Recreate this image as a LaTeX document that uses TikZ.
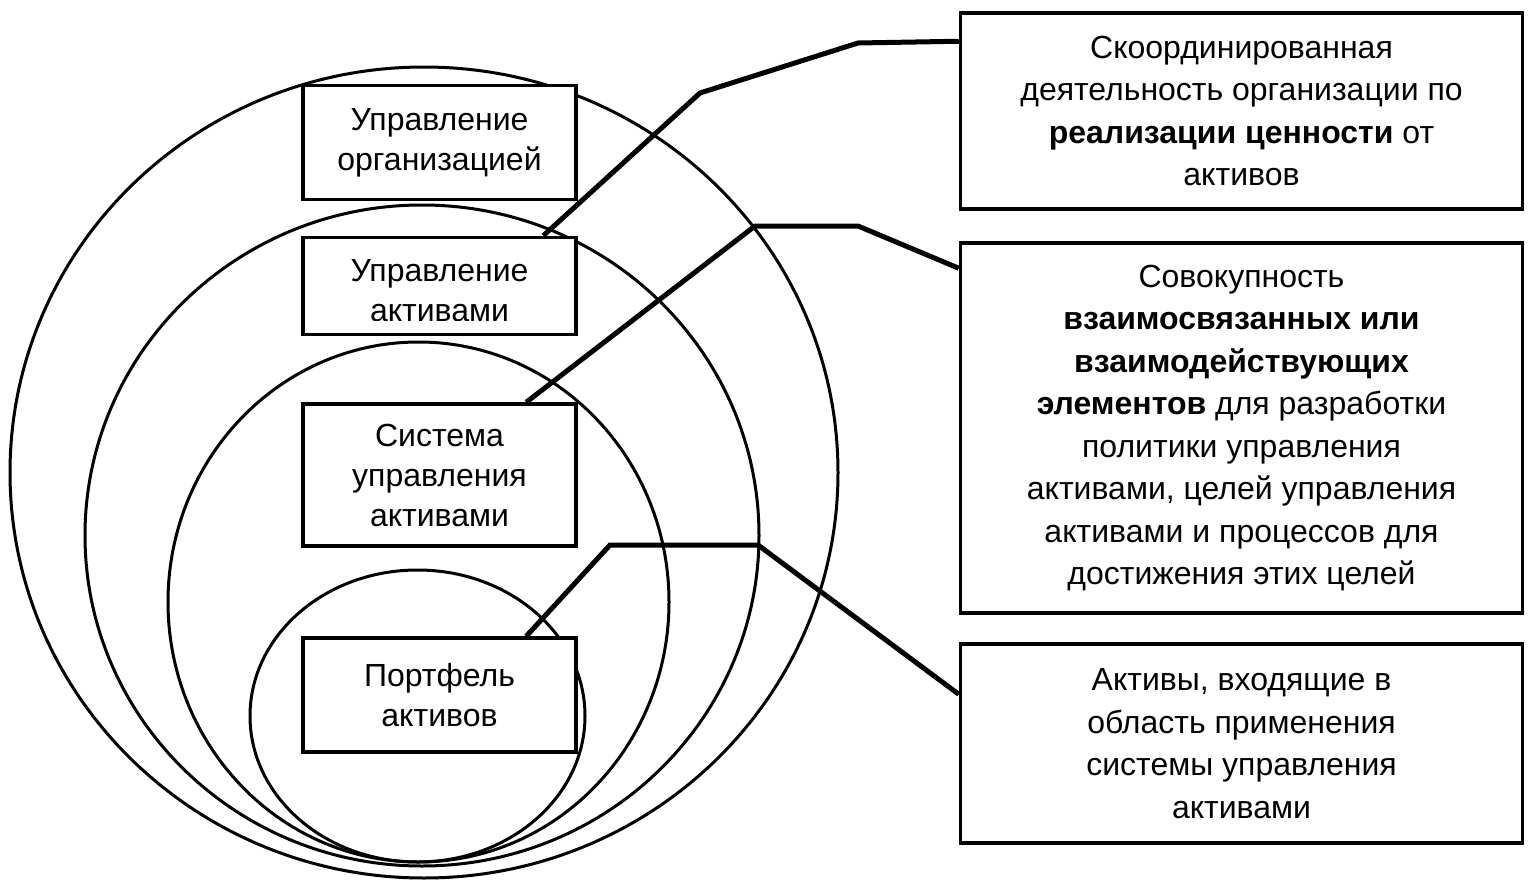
\documentclass[tikz,border=0pt]{standalone}
\usepackage{fontspec}
\setmainfont{Liberation Sans}
\begin{document}
\begin{tikzpicture}[x=1pt,y=-1pt,
  ell/.style={draw=black,line width=3pt},
  lbox/.style={draw=black,fill=white,line width=3.5pt,minimum width=273pt,inner sep=0pt,align=center,
    font=\fontsize{32}{40}\selectfont},
  rbox/.style={draw=black,fill=white,line width=3.5pt,minimum width=562pt,inner sep=0pt,align=center,
    font=\fontsize{32}{42.5}\selectfont},
  btext/.style={inner sep=0pt,align=center,font=\fontsize{32}{40}\selectfont},
  conn/.style={draw=black,line width=5pt,line join=miter}]
\useasboundingbox (0,0) rectangle (1535,886);
\fill[white] (0,0) rectangle (1535,886);
% nested ellipses
\draw[ell] (424,472.5) ellipse [x radius=414pt, y radius=405.5pt];
\draw[ell] (422,535.5) ellipse [x radius=337pt, y radius=330.5pt];
\draw[ell] (418.5,602) ellipse [x radius=250.5pt, y radius=260pt];
\draw[ell] (417.5,716) ellipse [x radius=167.5pt, y radius=146pt];
% left boxes
\node[lbox,minimum height=114pt] (b1) at (439.5,142.5) {Управление\\организацией};
\node[lbox,minimum height=97pt] (b2) at (439.5,286) {};
\begin{scope}
\clip (303,240) rectangle (576,320.5);
\node[btext] (b2t) at (439.5,291) {Управление\\активами};
\end{scope}
\node[lbox,minimum height=142pt] (b3) at (439.5,475) {Система\\управления\\активами};
\node[lbox,minimum height=114pt] (b4) at (439.5,695) {Портфель\\активов};
% right boxes
\node[rbox,minimum height=196pt] (r1) at (1241.5,111) {Скоординированная\\деятельность организации по\\\textbf{реализации ценности} от\\активов};
\node[rbox,minimum height=370pt] (r2) at (1241.5,428) {Совокупность\\\textbf{взаимосвязанных или}\\\textbf{взаимодействующих}\\\textbf{элементов} для разработки\\политики управления\\активами, целей управления\\активами и процессов для\\достижения этих целей};
\node[rbox,minimum height=199pt] (r3) at (1241.5,743.5) {Активы, входящие в\\область применения\\системы управления\\активами};
% bend points
\coordinate (k1a) at (700,93);
\coordinate (k1b) at (858,43);
\coordinate (k2a) at (755,226);
\coordinate (k2b) at (858,226);
\coordinate (k3a) at (610,545);
\coordinate (k3b) at (758,545);
% connectors
\draw[conn] ([xshift=242pt]b2.north west) -- (k1a) -- (k1b) -- ([yshift=-30pt]r1.north west);
\draw[conn] ([xshift=225pt]b3.north west) -- (k2a) -- (k2b) -- ([yshift=-27pt]r2.north west);
\draw[conn] ([xshift=225pt]b4.north west) -- (k3a) -- (k3b) -- ([yshift=-52pt]r3.north west);
\end{tikzpicture}
\end{document}
